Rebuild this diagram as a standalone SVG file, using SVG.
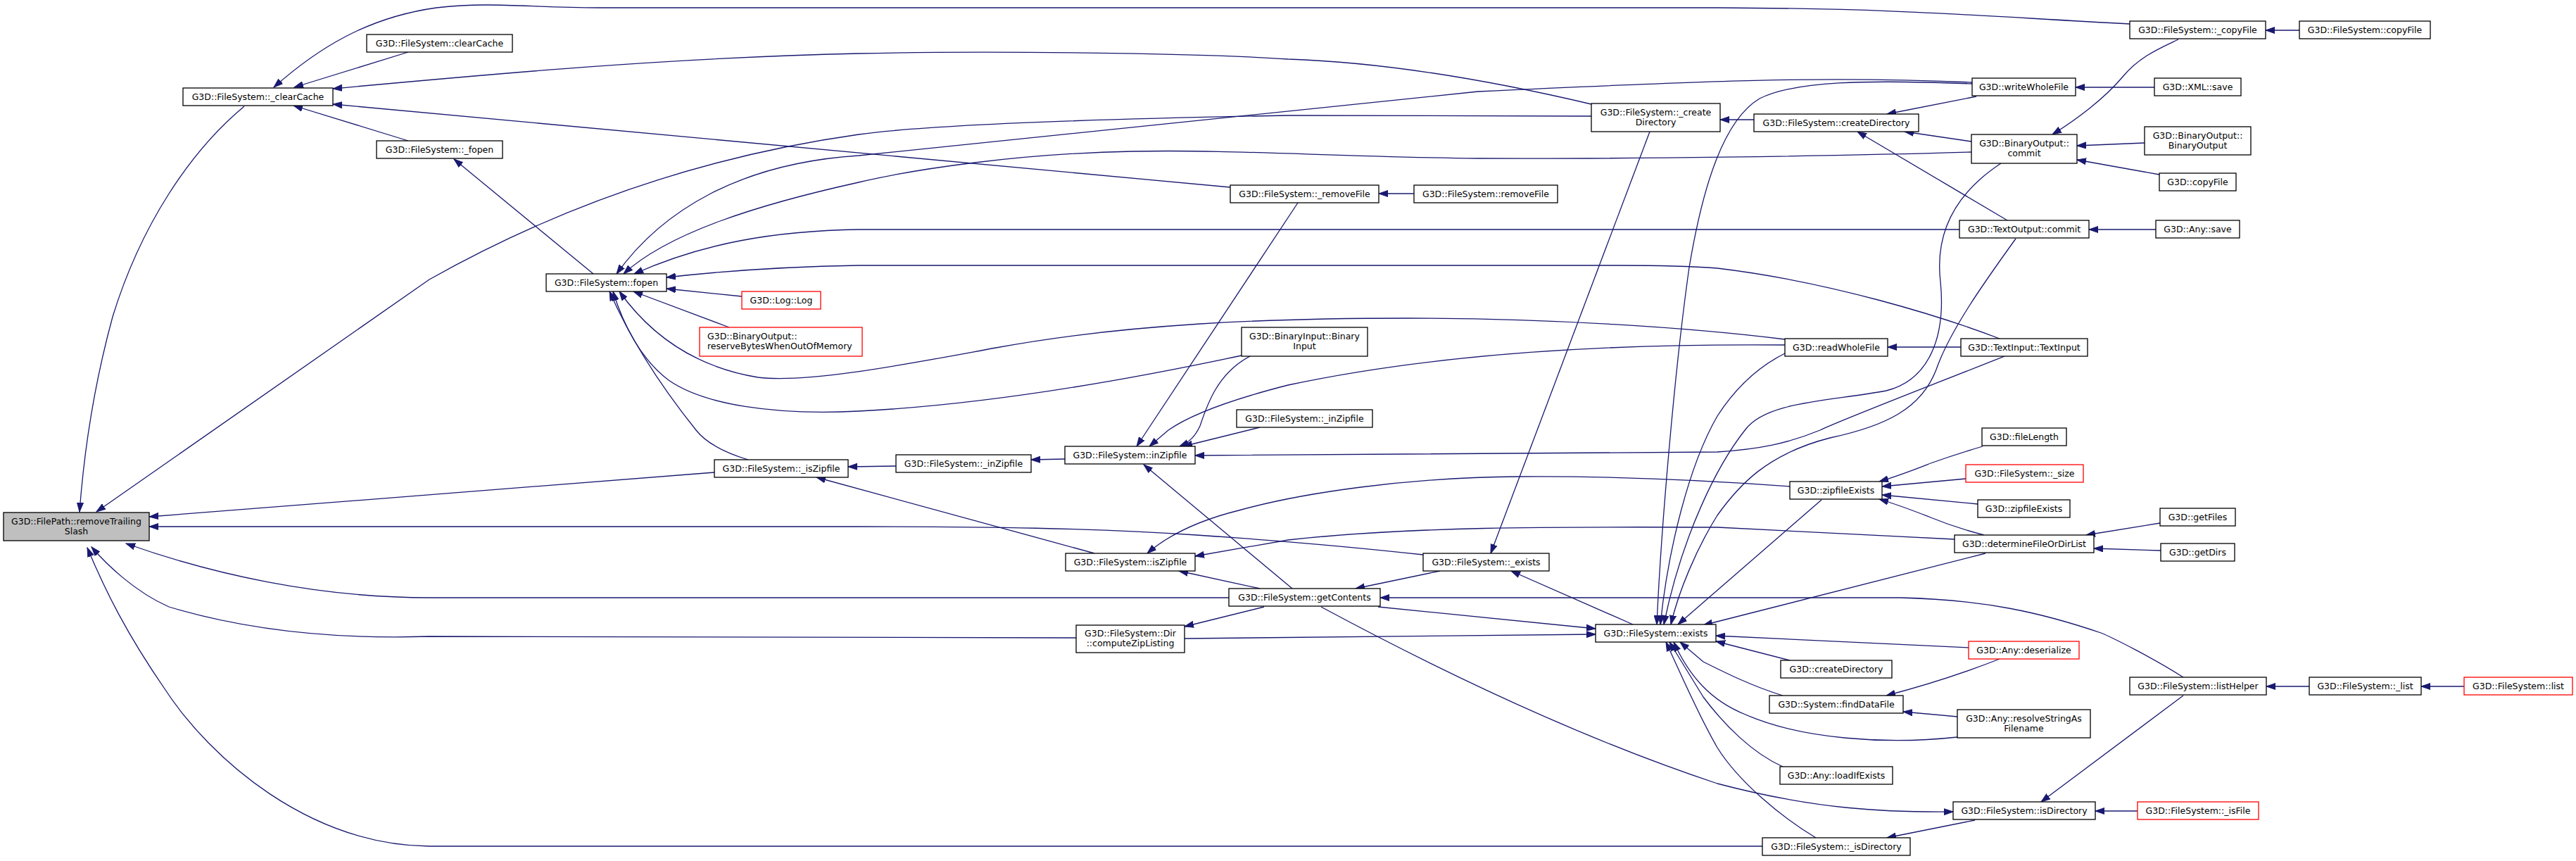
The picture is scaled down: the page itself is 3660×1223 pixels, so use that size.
<svg xmlns="http://www.w3.org/2000/svg" width="3660" height="1223" viewBox="0 0 3660 1223">
<style>
.n rect{fill:#fff;stroke:#000;stroke-width:1.3}
.n.r rect{stroke:#ff0000}
.n.g rect{fill:#bfbfbf}
.n text{font-family:"DejaVu Sans","Liberation Sans",sans-serif;font-size:12.5px;text-anchor:middle;fill:#000}
.e path{fill:none;stroke:#191970;stroke-width:1.3;marker-end:url(#a)}
</style>
<defs>
<marker id="a" markerWidth="14" markerHeight="10" refX="13" refY="5" orient="auto" markerUnits="userSpaceOnUse">
<path d="M0,0.5 L13,5 L0,9.5 z" fill="#191970" stroke="#191970" stroke-width="1"/>
</marker>
</defs>
<rect width="3660" height="1223" fill="#fff"/>
<g id="edges" class="e">
<path d="M347,151 C270,215 200,320 160,450 C130,560 118,660 113,727"/>
<path d="M2261,165 L1830,164 C1500,170 1300,180 1220,191 C1000,222 800,290 610,397 L137,727"/>
<path d="M1015,671 L212,734"/>
<path d="M2022,788 C1950,780 1850,770 1700,760 C1550,750 1400,748 1220,748 L212,748"/>
<path d="M1746,849 L610,849 C450,849 300,815 179,772"/>
<path d="M1529,906 L610,904 C420,910 300,880 240,862 C190,840 150,800 130,777"/>
<path d="M2504,1202 L610,1202 C440,1200 300,1080 233,977 C180,900 150,840 124,778"/>
<path d="M580,74 L418,124"/>
<path d="M3026,34 C2800,22 2700,12 2440,11 L850,11 C750,11 700,2 620,11 C520,25 450,70 389,124"/>
<path d="M2261,148 C2100,110 1950,88 1830,84 C1700,75 1400,72 1220,76 C950,82 700,105 473,126"/>
<path d="M1748,266 L473,148"/>
<path d="M580,200 L417,150"/>
<path d="M843,389 L645,226"/>
<path d="M2009,275 L1959,275"/>
<path d="M2802,117 C2600,108 2440,114 2100,130 L1220,221 C1050,232 940,300 876,389"/>
<path d="M2801,216 C2600,222 2300,226 2100,225 C1900,223 1750,212 1609,215 C1450,218 1300,240 1220,259 C1080,290 950,330 886,389"/>
<path d="M2784,326 L1220,326 C1100,328 1000,345 901,389"/>
<path d="M2841,481 C2760,450 2600,400 2440,381 C2400,378 2350,377 2300,377 L1220,377 C1100,379 1000,388 947,394"/>
<path d="M1054,421 L947,410"/>
<path d="M1036,465 L900,414"/>
<path d="M2536,482 C2400,465 2200,452 2000,452 C1800,452 1600,460 1415,494 C1300,515 1150,545 1077,536 C980,520 920,470 880,414"/>
<path d="M1764,505 C1600,540 1400,575 1220,584 C1100,590 1000,575 950,540 C910,510 885,460 871,414"/>
<path d="M1063,653 C1020,640 1000,625 989,611 C940,550 895,480 866,414"/>
<path d="M1273,662 L1205,663"/>
<path d="M1555,786 L1160,678"/>
<path d="M1513,652 L1465,653"/>
<path d="M1844,288 L1615,634"/>
<path d="M1776,506 C1730,530 1715,575 1705,605 C1698,620 1690,628 1676,634"/>
<path d="M2536,490 C2300,488 2050,500 1830,547 C1740,570 1690,590 1660,611 L1633,634"/>
<path d="M1790,607 L1681,634"/>
<path d="M2848,506 C2750,545 2620,595 2586,611 C2540,630 2500,638 2440,642 L1698,647"/>
<path d="M1836,836 L1625,660"/>
<path d="M2543,691 C2450,684 2300,676 2157,677 C2000,678 1850,700 1760,725 C1700,740 1660,760 1630,786"/>
<path d="M2777,766 L2440,749 C2200,748 2000,748 1830,767 L1698,790"/>
<path d="M1790,836 L1675,811"/>
<path d="M1796,862 L1683,890"/>
<path d="M3102,962 C3060,935 3000,905 2985,899 C2900,870 2820,852 2700,849 L1961,849"/>
<path d="M2046,811 L1926,836"/>
<path d="M1958,862 L2267,893"/>
<path d="M1683,907 L2267,901"/>
<path d="M1877,862 C2050,955 2250,1050 2440,1113 C2580,1150 2680,1154 2775,1153"/>
<path d="M2320,887 L2147,811"/>
<path d="M2344,187 L2118,786"/>
<path d="M2492,170 L2444,170"/>
<path d="M2808,137 L2681,162"/>
<path d="M2801,201 L2706,187"/>
<path d="M2852,313 L2639,187"/>
<path d="M3061,124 L2949,124"/>
<path d="M3095,56 C3070,68 3040,80 3016,109 C2990,140 2950,170 2916,191"/>
<path d="M3047,203 L2951,207"/>
<path d="M3068,248 L2951,227"/>
<path d="M3267,43 L3219,43"/>
<path d="M3063,326 L2968,326"/>
<path d="M2786,493 L2682,493"/>
<path d="M2802,119 C2650,113 2550,115 2500,140 C2450,170 2420,260 2400,380 C2380,520 2360,750 2354,887"/>
<path d="M2843,232 C2770,280 2750,340 2757,400 C2765,480 2740,540 2680,555 C2600,570 2510,570 2480,610 C2440,660 2390,760 2364,887"/>
<path d="M2864,339 C2820,400 2770,470 2751,525 C2730,580 2680,605 2600,622 C2510,645 2470,690 2440,732 C2410,780 2385,840 2374,887"/>
<path d="M2536,502 C2490,525 2460,560 2440,591 C2400,660 2370,780 2359,887"/>
<path d="M2588,710 L2384,887"/>
<path d="M2821,786 L2420,888"/>
<path d="M2797,920 L2438,903"/>
<path d="M2543,938 L2438,911"/>
<path d="M2533,988 C2490,975 2450,955 2420,940 L2387,912"/>
<path d="M2781,1047 C2680,1058 2560,1050 2480,1015 C2430,995 2400,960 2378,912"/>
<path d="M2533,1089 C2490,1070 2450,1030 2420,990 L2372,912"/>
<path d="M2580,1190 C2530,1160 2470,1110 2440,1062 C2410,1010 2385,950 2367,912"/>
<path d="M2841,936 C2780,960 2730,975 2680,988"/>
<path d="M2781,1018 L2704,1011"/>
<path d="M3102,988 L2900,1139"/>
<path d="M3037,1152 L2977,1152"/>
<path d="M2806,1165 L2681,1190"/>
<path d="M3281,975 L3220,975"/>
<path d="M3501,975 L3440,975"/>
<path d="M2817,634 C2780,645 2760,652 2743,658 C2720,667 2700,675 2670,684"/>
<path d="M2793,680 L2674,691"/>
<path d="M2810,716 L2674,703"/>
<path d="M2819,760 C2780,750 2760,742 2743,735 C2720,726 2700,718 2670,709"/>
<path d="M3069,743 L2964,760"/>
<path d="M3070,782 L2975,779"/>
</g>
<g id="n_root" class="n g"><rect x="5" y="728" width="207" height="40"/><text x="108.5" y="745">G3D::FilePath::removeTrailing</text><text x="108.5" y="759">Slash</text></g>
<g id="n_clearCacheP" class="n"><rect x="260" y="125" width="213" height="25"/><text x="366.5" y="142">G3D::FileSystem::_clearCache</text></g>
<g id="n_clearCache" class="n"><rect x="521" y="49" width="207" height="25"/><text x="624.5" y="66">G3D::FileSystem::clearCache</text></g>
<g id="n_fopenP" class="n"><rect x="535" y="200" width="179" height="25"/><text x="624.5" y="217">G3D::FileSystem::_fopen</text></g>
<g id="n_fopen" class="n"><rect x="776" y="389" width="171" height="25"/><text x="861.5" y="406">G3D::FileSystem::fopen</text></g>
<g id="n_log" class="n r"><rect x="1054" y="414" width="112" height="25"/><text x="1110" y="431">G3D::Log::Log</text></g>
<g id="n_reserve" class="n r"><rect x="994" y="465" width="231" height="41"/><text x="1005" y="482" style="text-anchor:start">G3D::BinaryOutput::</text><text x="1005" y="496" style="text-anchor:start">reserveBytesWhenOutOfMemory</text></g>
<g id="n_isZipfileP" class="n"><rect x="1015" y="653" width="190" height="25"/><text x="1110" y="670">G3D::FileSystem::_isZipfile</text></g>
<g id="n_inZipfileP" class="n"><rect x="1273" y="646" width="192" height="25"/><text x="1369" y="663">G3D::FileSystem::_inZipfile</text></g>
<g id="n_inZipfile" class="n"><rect x="1513" y="634" width="185" height="25"/><text x="1605.5" y="651">G3D::FileSystem::inZipfile</text></g>
<g id="n_isZipfile" class="n"><rect x="1514" y="786" width="184" height="25"/><text x="1606" y="803">G3D::FileSystem::isZipfile</text></g>
<g id="n_computeZip" class="n"><rect x="1529" y="888" width="154" height="39"/><text x="1606" y="904">G3D::FileSystem::Dir</text><text x="1606" y="918">::computeZipListing</text></g>
<g id="n_getContents" class="n"><rect x="1746" y="836" width="215" height="25"/><text x="1853.5" y="853">G3D::FileSystem::getContents</text></g>
<g id="n_removeFileP" class="n"><rect x="1748" y="263" width="211" height="25"/><text x="1853.5" y="280">G3D::FileSystem::_removeFile</text></g>
<g id="n_removeFile" class="n"><rect x="2009" y="263" width="204" height="25"/><text x="2111" y="280">G3D::FileSystem::removeFile</text></g>
<g id="n_binaryInput" class="n"><rect x="1764" y="465" width="179" height="41"/><text x="1853.5" y="482">G3D::BinaryInput::Binary</text><text x="1853.5" y="496">Input</text></g>
<g id="n_inZipfileP2" class="n"><rect x="1757" y="582" width="193" height="25"/><text x="1853.5" y="599">G3D::FileSystem::_inZipfile</text></g>
<g id="n_createDirP" class="n"><rect x="2261" y="147" width="183" height="40"/><text x="2352.5" y="164">G3D::FileSystem::_create</text><text x="2352.5" y="178">Directory</text></g>
<g id="n_existsP" class="n"><rect x="2022" y="786" width="179" height="25"/><text x="2111.5" y="803">G3D::FileSystem::_exists</text></g>
<g id="n_exists" class="n"><rect x="2267" y="887" width="171" height="25"/><text x="2352.5" y="904">G3D::FileSystem::exists</text></g>
<g id="n_createDirFS" class="n"><rect x="2492" y="162" width="234" height="25"/><text x="2609" y="179">G3D::FileSystem::createDirectory</text></g>
<g id="n_writeWhole" class="n"><rect x="2802" y="111" width="147" height="25"/><text x="2875.5" y="128">G3D::writeWholeFile</text></g>
<g id="n_boCommit" class="n"><rect x="2801" y="191" width="150" height="41"/><text x="2876" y="208">G3D::BinaryOutput::</text><text x="2876" y="222">commit</text></g>
<g id="n_toCommit" class="n"><rect x="2784" y="313" width="184" height="25"/><text x="2876" y="330">G3D::TextOutput::commit</text></g>
<g id="n_readWhole" class="n"><rect x="2536" y="481" width="146" height="25"/><text x="2609" y="498">G3D::readWholeFile</text></g>
<g id="n_textInput" class="n"><rect x="2786" y="481" width="180" height="25"/><text x="2876" y="498">G3D::TextInput::TextInput</text></g>
<g id="n_fileLength" class="n"><rect x="2816" y="608" width="120" height="25"/><text x="2876" y="625">G3D::fileLength</text></g>
<g id="n_sizeP" class="n r"><rect x="2793" y="660" width="167" height="25"/><text x="2876.5" y="677">G3D::FileSystem::_size</text></g>
<g id="n_zipExists1" class="n"><rect x="2543" y="684" width="131" height="25"/><text x="2608.5" y="701">G3D::zipfileExists</text></g>
<g id="n_zipExists2" class="n"><rect x="2810" y="710" width="131" height="25"/><text x="2875.5" y="727">G3D::zipfileExists</text></g>
<g id="n_determine" class="n"><rect x="2777" y="760" width="198" height="25"/><text x="2876" y="777">G3D::determineFileOrDirList</text></g>
<g id="n_deserialize" class="n r"><rect x="2797" y="911" width="157" height="25"/><text x="2875.5" y="928">G3D::Any::deserialize</text></g>
<g id="n_createDirG" class="n"><rect x="2530" y="938" width="158" height="25"/><text x="2609" y="955">G3D::createDirectory</text></g>
<g id="n_findData" class="n"><rect x="2514" y="988" width="190" height="25"/><text x="2609" y="1005">G3D::System::findDataFile</text></g>
<g id="n_resolve" class="n"><rect x="2781" y="1008" width="189" height="40"/><text x="2875.5" y="1025">G3D::Any::resolveStringAs</text><text x="2875.5" y="1039">Filename</text></g>
<g id="n_loadIf" class="n"><rect x="2529" y="1089" width="160" height="25"/><text x="2609" y="1106">G3D::Any::loadIfExists</text></g>
<g id="n_isDir" class="n"><rect x="2775" y="1139" width="202" height="25"/><text x="2876" y="1156">G3D::FileSystem::isDirectory</text></g>
<g id="n_isDirP" class="n"><rect x="2504" y="1190" width="210" height="25"/><text x="2609" y="1207">G3D::FileSystem::_isDirectory</text></g>
<g id="n_copyFileP" class="n"><rect x="3026" y="30" width="193" height="25"/><text x="3122.5" y="47">G3D::FileSystem::_copyFile</text></g>
<g id="n_copyFileFS" class="n"><rect x="3267" y="30" width="186" height="25"/><text x="3360" y="47">G3D::FileSystem::copyFile</text></g>
<g id="n_xmlSave" class="n"><rect x="3061" y="111" width="123" height="25"/><text x="3122.5" y="128">G3D::XML::save</text></g>
<g id="n_boCtor" class="n"><rect x="3047" y="180" width="151" height="40"/><text x="3122.5" y="197">G3D::BinaryOutput::</text><text x="3122.5" y="211">BinaryOutput</text></g>
<g id="n_copyFileG" class="n"><rect x="3068" y="246" width="109" height="25"/><text x="3122.5" y="263">G3D::copyFile</text></g>
<g id="n_anySave" class="n"><rect x="3063" y="313" width="119" height="25"/><text x="3122.5" y="330">G3D::Any::save</text></g>
<g id="n_getFiles" class="n"><rect x="3069" y="722" width="107" height="25"/><text x="3122.5" y="739">G3D::getFiles</text></g>
<g id="n_getDirs" class="n"><rect x="3070" y="772" width="105" height="25"/><text x="3122.5" y="789">G3D::getDirs</text></g>
<g id="n_listHelper" class="n"><rect x="3026" y="962" width="194" height="25"/><text x="3123" y="979">G3D::FileSystem::listHelper</text></g>
<g id="n_listP" class="n"><rect x="3281" y="962" width="159" height="25"/><text x="3360.5" y="979">G3D::FileSystem::_list</text></g>
<g id="n_list" class="n r"><rect x="3501" y="962" width="154" height="25"/><text x="3578" y="979">G3D::FileSystem::list</text></g>
<g id="n_isFileP" class="n r"><rect x="3037" y="1139" width="172" height="25"/><text x="3123" y="1156">G3D::FileSystem::_isFile</text></g>
</svg>
